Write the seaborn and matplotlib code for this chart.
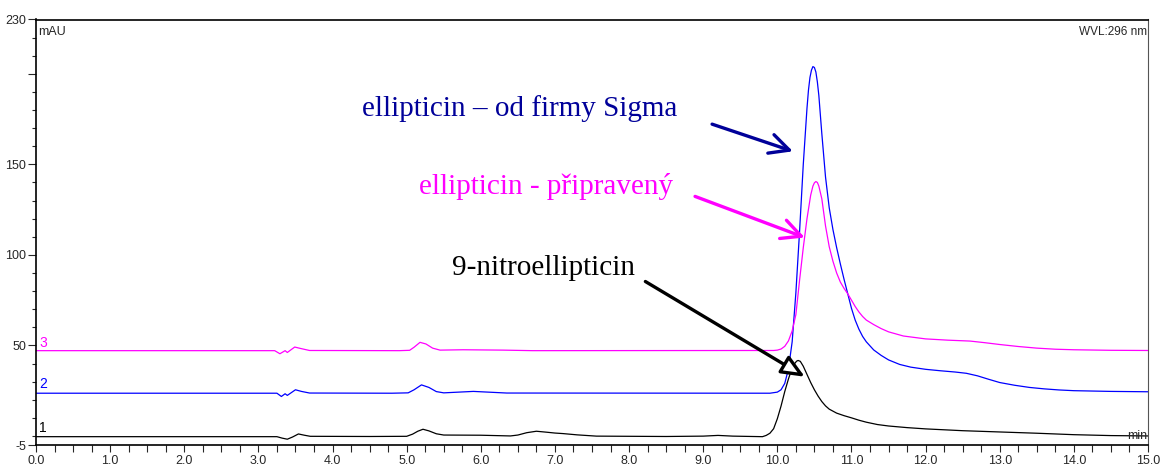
import matplotlib
matplotlib.use("Agg")
import matplotlib.pyplot as plt
from matplotlib.ticker import FixedLocator, MultipleLocator
import pandas as pd
import seaborn as sns

# trace 1 - 9-nitroellipticin (black), time in min, signal in mAU
black_time = [0.0, 3.25, 3.32, 3.39, 3.46, 3.54, 3.62, 3.70, 4.50, 5.00, 5.08, 5.15, 5.22,
              5.30, 5.40, 5.50, 6.00, 6.40, 6.50, 6.62, 6.75, 6.88, 7.00, 7.11, 7.30, 7.56,
              8.50, 9.00, 9.20, 9.40, 9.80, 9.85, 9.90, 9.95, 10.00, 10.05, 10.10, 10.15,
              10.20, 10.23, 10.26, 10.28, 10.31, 10.35, 10.40, 10.45, 10.50, 10.55, 10.60,
              10.65, 10.70, 10.80, 10.90, 11.00, 11.10, 11.20, 11.35, 11.50, 11.75, 12.00,
              12.50, 13.00, 13.50, 14.00, 14.50, 15.00]
black_mau = [-0.4, -0.4, -1.2, -1.8, -0.6, 1.1, 0.4, -0.2, -0.3, -0.2, 1.0, 2.6, 3.7,
             2.8, 1.2, 0.5, 0.4, 0.0, 0.5, 1.8, 2.6, 2.1, 1.6, 1.3, 0.6, -0.1,
             -0.3, -0.1, 0.3, -0.1, -0.4, 0.3, 1.5, 4.0, 9.5, 16.5, 24.5, 31.5,
             37.5, 39.8, 41.3, 41.7, 41.2, 38.5, 34.0, 29.5, 25.5, 22.0, 19.0,
             16.6, 14.8, 12.6, 11.2, 10.0, 8.7, 7.6, 6.3, 5.5, 4.6, 3.9,
             2.9, 2.2, 1.5, 0.7, 0.2, 0.0]

# trace 2 - ellipticin from Sigma (blue)
blue_time = [0.0, 3.25, 3.31, 3.36, 3.39, 3.44, 3.50, 3.58, 3.69, 4.80, 5.02, 5.10, 5.20,
             5.30, 5.40, 5.50, 5.90, 6.35, 9.90, 10.00, 10.05, 10.10, 10.15, 10.20, 10.25,
             10.30, 10.35, 10.40, 10.42, 10.44, 10.46, 10.48, 10.50, 10.52, 10.54, 10.56,
             10.60, 10.65, 10.70, 10.75, 10.80, 10.85, 10.90, 10.95, 11.00, 11.05, 11.10,
             11.15, 11.20, 11.30, 11.40, 11.50, 11.65, 11.80, 12.00, 12.20, 12.40, 12.55,
             12.70, 12.85, 13.00, 13.20, 13.40, 13.60, 13.80, 14.00, 14.50, 15.00]
blue_mau = [23.6, 23.6, 21.8, 23.3, 22.4, 23.8, 25.5, 24.6, 23.7, 23.6, 23.8, 25.5, 28.2,
            26.8, 24.5, 23.8, 24.6, 23.7, 23.6, 24.2, 25.5, 29.0, 37.0, 52.0, 79.0,
            113.0, 150.0, 181.0, 191.0, 198.0, 202.0, 204.0, 203.5, 201.0, 195.5, 188.0,
            167.0, 143.0, 126.0, 114.0, 104.0, 95.0, 86.5, 78.5, 70.5, 64.0, 59.0,
            55.0, 52.0, 47.5, 44.5, 42.0, 39.5, 38.0, 36.8, 36.0, 35.3, 34.6,
            33.2, 31.3, 29.5, 28.0, 26.8, 26.0, 25.4, 25.0, 24.6, 24.4]

# trace 3 - prepared ellipticin (magenta)
pink_time = [0.0, 3.22, 3.29, 3.34, 3.36, 3.39, 3.44, 3.49, 3.57, 3.69, 4.90, 5.04, 5.10,
             5.18, 5.26, 5.35, 5.45, 5.76, 6.30, 6.70, 9.95, 10.00, 10.05, 10.10, 10.15,
             10.20, 10.25, 10.30, 10.35, 10.40, 10.45, 10.48, 10.50, 10.52, 10.54, 10.56,
             10.60, 10.65, 10.70, 10.75, 10.80, 10.85, 10.90, 10.95, 11.00, 11.05, 11.10,
             11.15, 11.20, 11.30, 11.40, 11.50, 11.70, 12.00, 12.30, 12.60, 12.80, 13.00,
             13.25, 13.50, 13.75, 14.00, 14.50, 15.00]
pink_mau = [47.1, 47.1, 45.4, 46.6, 47.1, 46.1, 47.6, 49.1, 48.3, 47.2, 47.1, 47.3, 49.0,
            51.7, 50.8, 48.5, 47.4, 47.6, 47.4, 47.1, 47.2, 47.4, 48.0, 49.5, 52.5,
            58.0, 67.0, 86.0, 104.0, 120.0, 133.0, 138.0, 139.8, 140.5, 140.0, 138.0,
            131.0, 116.0, 104.5, 96.5, 90.0, 85.0, 81.5, 78.5, 75.0, 71.5, 68.5,
            66.0, 64.0, 61.5, 59.3, 57.5, 55.2, 53.6, 52.9, 52.4, 51.5, 50.5,
            49.4, 48.5, 47.9, 47.6, 47.3, 47.2]

trace_labels = ["1", "2", "3"]
trace_label_mau = [4.4, 28.8, 51.5]
x_ticks = [float(t) for t in range(16)]
y_ticks = [-5, 50, 100, 150, 200, 230]
y_tick_labels = ["-5", "50", "100", "150", "", "230"]

BLACK = "#000000"
BLUE = "#0000ff"
PINK = "#ff00ff"
NAVY = "#000099"


def draw_traces(ax):
    traces = [(black_time, black_mau, BLACK), (blue_time, blue_mau, BLUE),
              (pink_time, pink_mau, PINK)]
    for times, values, color in traces:
        df = pd.DataFrame({"time": times, "mau": values})
        sns.lineplot(data=df, x="time", y="mau", color=color, linewidth=0.9,
                     estimator=None, ax=ax)
    for label, level, color in zip(trace_labels, trace_label_mau, [BLACK, BLUE, PINK]):
        ax.text(0.04, level, label, color=color, fontsize=10, va="center", ha="left")


def draw_annotations(ax):
    serif = ["Liberation Serif", "DejaVu Serif"]
    ax.text(4.40, 176.8, "ellipticin \u2013 od firmy Sigma", color=NAVY, fontsize=21,
            family=serif, va="baseline")
    ax.text(5.17, 133.4, "ellipticin - p\u0159ipraven\u00fd", color=PINK, fontsize=21,
            family=serif, va="baseline")
    ax.text(5.61, 89.1, "9-nitroellipticin", color=BLACK, fontsize=21,
            family=serif, va="baseline")

    ax.annotate("", xy=(10.21, 157.2), xytext=(9.12, 172.2),
                arrowprops=dict(arrowstyle="->,head_length=0.7,head_width=0.35",
                                color=NAVY, lw=2.4, mutation_scale=20,
                                shrinkA=0, shrinkB=0))
    ax.annotate("", xy=(10.37, 109.6), xytext=(8.89, 132.3),
                arrowprops=dict(arrowstyle="->,head_length=0.7,head_width=0.35",
                                color=PINK, lw=2.4, mutation_scale=20,
                                shrinkA=0, shrinkB=0))
    ax.annotate("", xy=(10.37, 32.7), xytext=(8.22, 85.3),
                arrowprops=dict(arrowstyle="-|>,head_length=0.7,head_width=0.3",
                                ec=BLACK, fc="white", lw=2.4, mutation_scale=20,
                                shrinkA=0, shrinkB=0))


def style_axes(ax):
    ax.set_xlim(0, 15)
    ax.set_ylim(-5, 230)
    ax.set_xlabel("")
    ax.set_ylabel("")
    ax.xaxis.set_major_locator(FixedLocator(x_ticks))
    ax.set_xticklabels([f"{t:.1f}" for t in x_ticks])
    ax.xaxis.set_minor_locator(MultipleLocator(0.25))
    ax.yaxis.set_major_locator(FixedLocator(y_ticks))
    ax.set_yticklabels(y_tick_labels)
    ax.yaxis.set_minor_locator(FixedLocator(list(range(0, 230, 10))))
    ax.tick_params(axis="x", which="both", length=5, width=0.8, labelsize=9, pad=2)
    ax.tick_params(axis="y", which="major", length=6, width=0.8, labelsize=9, pad=1)
    ax.tick_params(axis="y", which="minor", length=3, width=0.8)
    for side in ["left", "bottom", "top"]:
        ax.spines[side].set_color("black")
        ax.spines[side].set_linewidth(1.2)
    ax.spines["right"].set_color("#555555")
    ax.spines["right"].set_linewidth(0.8)

    ax.text(0.002, 0.985, "mAU", transform=ax.transAxes, fontsize=9, va="top", ha="left")
    ax.text(0.999, 0.985, "WVL:296 nm", transform=ax.transAxes, fontsize=8.5,
            va="top", ha="right")
    ax.text(0.999, 0.008, "min", transform=ax.transAxes, fontsize=9, va="bottom", ha="right")


def main():
    sns.set_style("ticks")
    plt.rcParams["font.family"] = ["Liberation Sans", "DejaVu Sans"]
    fig = plt.figure(figsize=(11.61, 4.68), dpi=100)
    ax = fig.add_axes([36 / 1161, 1 - 445 / 468, (1148 - 36) / 1161, (445 - 19.5) / 468])
    draw_traces(ax)
    draw_annotations(ax)
    style_axes(ax)
    fig.savefig("out.png", dpi=100)
    plt.close(fig)


if __name__ == "__main__":
    main()
